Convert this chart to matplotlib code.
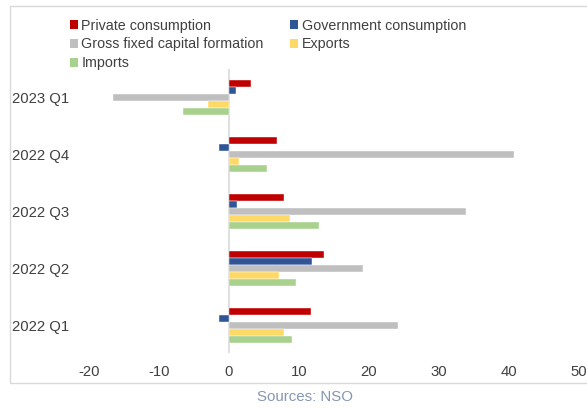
import matplotlib
matplotlib.use("Agg")
import matplotlib.pyplot as plt
import numpy as np
from matplotlib.patches import Patch, Rectangle

plt.rcParams['font.family'] = ['Liberation Sans', 'DejaVu Sans']
plt.rcParams['axes.unicode_minus'] = False

# Quarters, bottom to top
quarters = ["2022 Q1", "2022 Q2", "2022 Q3", "2022 Q4", "2023 Q1"]

private_consumption = [11.8, 13.6, 7.8, 6.8, 3.2]
government_consumption = [-1.4, 11.9, 1.2, -1.4, 1.0]
gross_fixed_capital = [24.2, 19.2, 33.9, 40.8, -16.6]
exports = [7.8, 7.1, 8.7, 1.4, -3.0]
imports = [9.0, 9.6, 12.9, 5.4, -6.6]

series_names = ["Private consumption", "Government consumption",
                "Gross fixed capital formation", "Exports", "Imports"]
series_values = [private_consumption, government_consumption,
                 gross_fixed_capital, exports, imports]
colors = ["#C00000", "#2F5597", "#BFBFBF", "#FFD966", "#A9D18E"]

text_color = "#404040"

fig = plt.figure(figsize=(5.87, 4.08), dpi=100)
ax = fig.add_axes([0.1516, 0.1336, 0.8344, 0.6964])

y = np.arange(len(quarters))
h = 0.123
for k, (vals, col) in enumerate(zip(series_values, colors)):
    offset = (2 - k) * h
    ax.barh(y + offset, vals, height=h, color=col, edgecolor="white",
            linewidth=0.3)

ax.set_xlim(-20, 50)
ax.set_ylim(-0.5, 4.5)
ax.set_xticks(range(-20, 51, 10))
ax.set_yticks(y)
ax.set_yticklabels(quarters)
ax.tick_params(axis="both", length=0, labelsize=10.7, colors=text_color)
ax.tick_params(axis="x", pad=8.5)
ax.tick_params(axis="y", pad=14.5)
for s in ax.spines.values():
    s.set_visible(False)
ax.axvline(0, color="#D9D9D9", linewidth=1.2, zorder=0)

# Legend: column-first ordering gives the row layout of the reference
order = [0, 2, 4, 1, 3]
handles = [Patch(facecolor=colors[i], label=series_names[i]) for i in order]
fig.legend(handles=handles, ncol=2, loc="upper left",
           bbox_to_anchor=(0.107, 0.972), frameon=False, fontsize=10.3,
           handlelength=0.55, handleheight=0.55, handletextpad=0.25,
           columnspacing=1.85, labelspacing=0.34, borderpad=0,
           labelcolor=text_color)

# Chart frame
fig.patches.append(Rectangle((10 / 587, 1 - 383 / 408), 1.0, (383 - 6) / 408,
                             transform=fig.transFigure, fill=False,
                             edgecolor="#D9D9D9", linewidth=1.0))

fig.text(305 / 587, 1 - 397 / 408, "Sources: NSO", ha="center", va="center",
         fontsize=10.8, color="#8497B0")

fig.savefig("out.png", dpi=100)
